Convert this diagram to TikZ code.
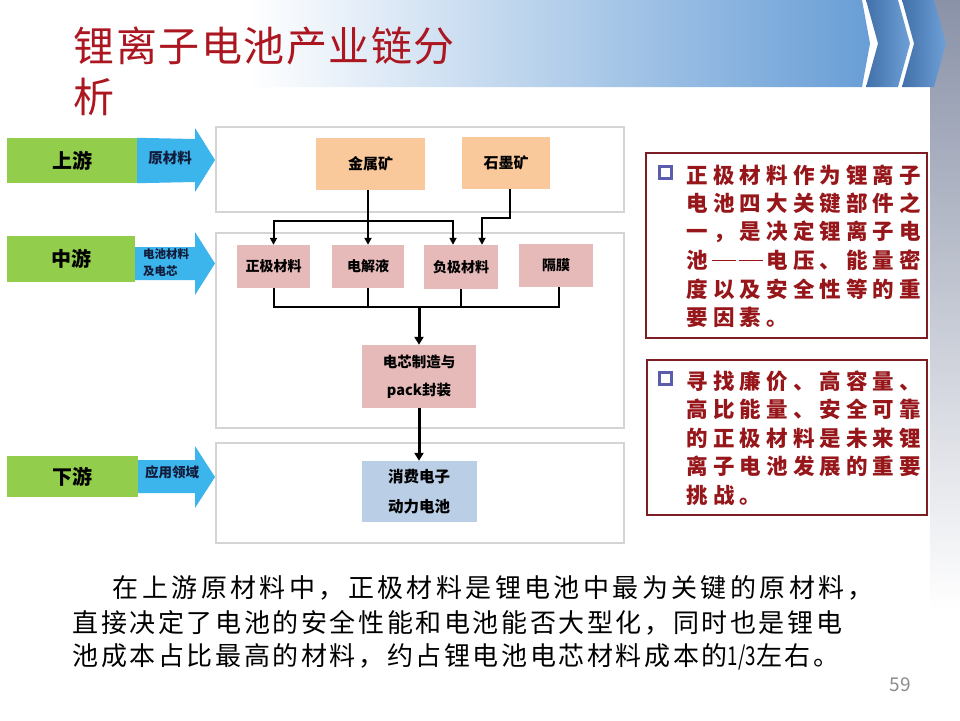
\documentclass[tikz,border=0pt]{standalone}
\usepackage{fontspec}
\usepackage{graphicx}
\setmainfont{Noto Sans CJK SC}
\usetikzlibrary{arrows.meta,calc}
\definecolor{titlered}{RGB}{172,22,32}
\definecolor{boxred}{RGB}{150,22,26}
\definecolor{boxborder}{RGB}{125,30,36}
\definecolor{bannerblue}{RGB}{104,158,214}
\definecolor{chevdark}{RGB}{66,112,170}
\definecolor{chevlight}{RGB}{110,160,215}
\definecolor{bandgray}{RGB}{138,146,168}
\definecolor{stagegreen}{RGB}{146,206,76}
\definecolor{arrowblue}{RGB}{60,180,236}
\definecolor{arrowtext}{RGB}{18,28,58}
\definecolor{stageline}{RGB}{212,212,212}
\definecolor{orefill}{RGB}{249,201,156}
\definecolor{matfill}{RGB}{230,186,185}
\definecolor{appfill}{RGB}{186,206,230}
\definecolor{bulletblue}{RGB}{92,92,172}
\definecolor{pagegray}{RGB}{140,140,140}
\newlength\gridw
\newcommand\gridtext[2]{\setlength\gridw{#1}\gridloop#2\relax}
\def\gridloop#1{\ifx\relax#1\else\makebox[\gridw]{#1}\expandafter\gridloop\fi}
\newcommand\griddash[1]{\makebox[#1]{\rule[0.34em]{0.9\dimexpr#1\relax}{1.6pt}}}
\begin{document}
\begin{tikzpicture}[x=1pt,y=-1pt,
  stage/.style={draw=stageline, line width=1.8pt, fill=white, inner sep=0pt},
  greenbox/.style={fill=stagegreen, inner sep=0pt, font=\bfseries\fontsize{20}{22}\selectfont},
  arrowlabel/.style={inner sep=0pt, text=arrowtext, font=\bfseries\fontsize{14.5}{16}\selectfont},
  orebox/.style={fill=orefill, inner sep=0pt, font=\bfseries\fontsize{15}{17}\selectfont},
  matbox/.style={fill=matfill, inner sep=0pt, font=\bfseries\fontsize{14}{16}\selectfont},
  appbox/.style={fill=appfill, inner sep=0pt, align=center, font=\bfseries\fontsize{15.5}{30}\selectfont},
  conn/.style={draw=black, line width=2pt},
  tip/.style={-{Triangle[length=7pt,width=7pt]}},
  bigconn/.style={draw=black, line width=3pt, -{Triangle[length=8pt,width=9pt]}},
  rbox/.style={draw=boxborder, line width=1.1pt, inner sep=0pt},
  bulletsq/.style={draw=bulletblue, line width=3pt, minimum size=11.5pt, inner sep=0pt},
  rline/.style={anchor=west, inner sep=0pt, text=boxred, font=\bfseries\fontsize{21.5}{23}\selectfont},
  pline/.style={anchor=west, inner sep=0pt, text=black, font=\fontsize{26}{28}\selectfont},
  titleline/.style={anchor=west, inner sep=0pt, text=titlered, font=\fontsize{41}{43}\selectfont}]
\useasboundingbox (0,0) rectangle (960,720);
\fill[white] (0,0) rectangle (960,720);
% right grey band
\shade[top color=bandgray, bottom color=white] (930,0) rectangle (960,610);
% title banner
\shade[left color=white, right color=bannerblue] (250,0) -- (862,0) -- (870,43.5) -- (862,87) -- (250,87) -- cycle;
\shade[left color=chevdark, right color=chevlight] (866,0) -- (898,0) -- (910,43.5) -- (898,87) -- (866,87) -- (878,43.5) -- cycle;
\shade[left color=chevdark, right color=chevlight] (902,0) -- (934,0) -- (946,43.5) -- (934,87) -- (902,87) -- (914,43.5) -- cycle;
% title
\node[titleline] (title1) at (73,46) {\gridtext{42.5pt}{锂离子电池产业链分}};
\node[titleline] (title2) at (73,97) {\gridtext{42.5pt}{析}};
% stage frames
\node[stage, minimum width=408pt, minimum height=85pt] (s1) at (420,169.5) {};
\node[stage, minimum width=408pt, minimum height=195pt] (s2) at (420,330.5) {};
\node[stage, minimum width=408pt, minimum height=100pt] (s3) at (420,493) {};
% left stage labels
\node[greenbox, minimum width=130pt, minimum height=45pt] (up) at (72,160.5) {上游};
\node[greenbox, minimum width=128pt, minimum height=46pt] (mid) at (71,259) {中游};
\node[greenbox, minimum width=131pt, minimum height=41pt] (down) at (72.5,476.5) {下游};
\fill[arrowblue] (up.north east) -- (195,139) -- (195,128) -- (215,160) -- (195,192) -- (195,182) -- (up.south east) -- cycle;
\fill[arrowblue] (135,247) -- (195,247) -- (195,232) -- (215,263.5) -- (195,295) -- (195,280) -- (135,280) -- cycle;
\fill[arrowblue] (138,460) -- (195,460) -- (195,446) -- (215,477) -- (195,508) -- (195,493) -- (138,493) -- cycle;
\node[arrowlabel] (l1) at (170,158) {原材料};
\node[arrowlabel, font=\bfseries\fontsize{11.5}{17}\selectfont, align=left] (l2) at (166,263) {电池材料\\及电芯};
\node[arrowlabel, font=\bfseries\fontsize{13.5}{15}\selectfont] (l3) at (172,472) {应用领域};
% inner nodes
\node[orebox, minimum width=109pt, minimum height=52pt] (jsk) at (370.5,164) {金属矿};
\node[orebox, minimum width=88pt, minimum height=52pt] (smk) at (506,163) {石墨矿};
\node[matbox, minimum width=73pt, minimum height=43pt] (zj) at (273.5,266.5) {正极材料};
\node[matbox, minimum width=72pt, minimum height=43pt] (djy) at (368,266.5) {电解液};
\node[matbox, minimum width=74pt, minimum height=44pt] (fj) at (461,267) {负极材料};
\node[matbox, minimum width=74pt, minimum height=43pt] (gm) at (556,265.5) {隔膜};
\node[matbox, align=center, font=\bfseries\fontsize{14.5}{28}\selectfont, minimum width=114pt, minimum height=63pt] (dx) at (419,376.5) {电芯制造与\\pack封装};
\node[appbox, minimum width=115pt, minimum height=61pt] (xf) at (419,491.5) {消费电子\\动力电池};
% connectors
\coordinate (b1) at (368,221);
\coordinate (b2) at (482,218);
\coordinate (m) at (419,307);
\draw[conn, tip] (djy.north |- jsk.south) -- (djy.north);
\draw[conn, tip] (b1) -| (zj.north);
\draw[conn, tip] (b1) -| ([xshift=-8pt]fj.north);
\draw[conn, tip] ([xshift=4pt]smk.south) |- (b2) -- ([xshift=21pt]fj.north);
\draw[conn] (zj.south) -- (zj.south |- m) -- ([xshift=3pt]gm.south |- m) -- ([xshift=3pt]gm.south);
\draw[conn] (djy.south) -- (djy.south |- m);
\draw[conn] (fj.south) -- (fj.south |- m);
\draw[bigconn] (m) -- (dx.north);
\draw[bigconn] (dx.south) -- (xf.north);
% right text boxes
\node[rbox, minimum width=281pt, minimum height=185pt] (ra) at (786.5,245.5) {};
\node[bulletsq] (bqa) at (665.5,172.5) {};
\node[rline] (ra1) at (684,175) {\gridtext{26.6pt}{正极材料作为锂离子}};
\node[rline] (ra2) at (684,203.5) {\gridtext{26.6pt}{电池四大关键部件之}};
\node[rline] (ra3) at (684,232) {\gridtext{26.6pt}{一，是决定锂离子电}};
\node[rline] (ra4) at (684,260.5) {\gridtext{26.6pt}{池}\griddash{26.6pt}\griddash{26.6pt}\gridtext{26.6pt}{电压、能量密}};
\node[rline] (ra5) at (684,289) {\gridtext{26.6pt}{度以及安全性等的重}};
\node[rline] (ra6) at (684,317.5) {\gridtext{26.6pt}{要因素。}};
\node[rbox, minimum width=280pt, minimum height=155pt] (rb) at (787,437.5) {};
\node[bulletsq] (bqb) at (665.5,378.5) {};
\node[rline] (rb1) at (684,381) {\gridtext{26.6pt}{寻找廉价、高容量、}};
\node[rline] (rb2) at (684,409.5) {\gridtext{26.6pt}{高比能量、安全可靠}};
\node[rline] (rb3) at (684,438) {\gridtext{26.6pt}{的正极材料是未来锂}};
\node[rline] (rb4) at (684,466.5) {\gridtext{26.6pt}{离子电池发展的重要}};
\node[rline] (rb5) at (684,495) {\gridtext{26.6pt}{挑战。}};
% bottom paragraph
\node[pline] (p1) at (111,588) {\gridtext{29.4pt}{在上游原材料中，正极材料是锂电池中最为关键的原材料，}};
\node[pline] (p2) at (71,623) {\gridtext{28.6pt}{直接决定了电池的安全性能和电池能否大型化，同时也是锂电}};
\node[pline] (p3) at (71,657) {\gridtext{28.6pt}{池成本占比最高的材料，约占锂电池电芯材料成本的}\makebox[26pt]{\scalebox{0.72}[1]{1/3}}\gridtext{28.6pt}{左右。}};
% page number
\node[inner sep=0pt, text=pagegray, font=\fontsize{19}{20}\selectfont] (pg) at (900,685) {59};
\end{tikzpicture}
\end{document}
